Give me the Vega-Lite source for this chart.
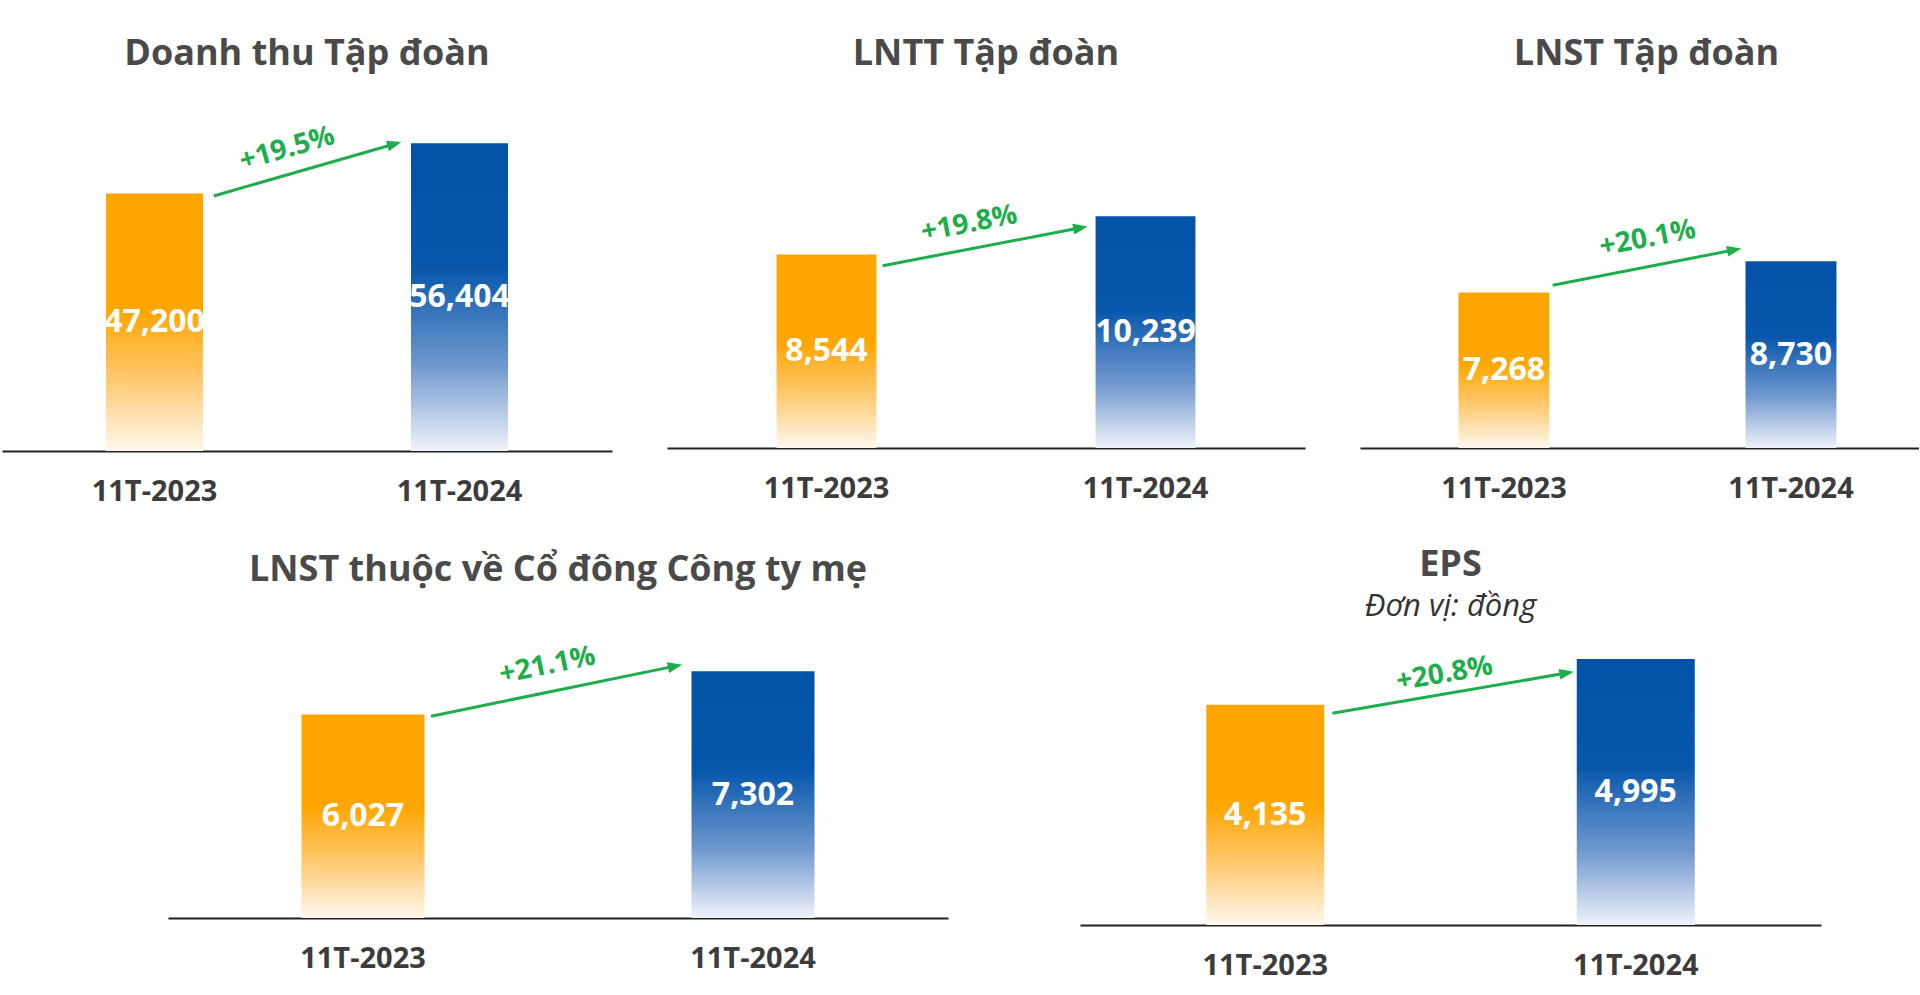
{
  "$schema": "https://vega.github.io/schema/vega-lite/v6.json",
  "background": "white",
  "padding": {"left": 2, "top": 36, "right": 0, "bottom": 12},
  "config": {
    "view": {"stroke": null},
    "font": "Open Sans",
    "axis": {"domainColor": "#222222", "domainWidth": 2, "ticks": false, "tickSize": 0, "labelPadding": 26, "labelFontSize": 29, "labelFontWeight": 700, "labelColor": "#3c3c3c", "labelFont": "Open Sans", "labelAngle": 0, "grid": false},
    "title": {"font": "Open Sans", "fontSize": 36, "fontWeight": 700, "color": "#4a4a4a", "subtitleFont": "Open Sans", "subtitleFontSize": 31, "subtitleFontStyle": "italic", "subtitleFontWeight": 400, "subtitleColor": "#333333", "subtitlePadding": 8}
  },
  "datasets": {
    "bars": [
      {"metric": "Doanh thu", "period": "11T-2023", "value": 47200},
      {"metric": "Doanh thu", "period": "11T-2024", "value": 56404},
      {"metric": "LNTT", "period": "11T-2023", "value": 8544},
      {"metric": "LNTT", "period": "11T-2024", "value": 10239},
      {"metric": "LNST", "period": "11T-2023", "value": 7268},
      {"metric": "LNST", "period": "11T-2024", "value": 8730},
      {"metric": "LNST CĐ", "period": "11T-2023", "value": 6027},
      {"metric": "LNST CĐ", "period": "11T-2024", "value": 7302},
      {"metric": "EPS", "period": "11T-2023", "value": 4135},
      {"metric": "EPS", "period": "11T-2024", "value": 4995}
    ],
    "growth": [
      {"metric": "Doanh thu", "from": "11T-2023", "to": "11T-2024", "v1": 47200, "v2": 56404, "pct": "+19.5%"},
      {"metric": "LNTT", "from": "11T-2023", "to": "11T-2024", "v1": 8544, "v2": 10239, "pct": "+19.8%"},
      {"metric": "LNST", "from": "11T-2023", "to": "11T-2024", "v1": 7268, "v2": 8730, "pct": "+20.1%"},
      {"metric": "LNST CĐ", "from": "11T-2023", "to": "11T-2024", "v1": 6027, "v2": 7302, "pct": "+21.1%"},
      {"metric": "EPS", "from": "11T-2023", "to": "11T-2024", "v1": 4135, "v2": 4995, "pct": "+20.8%"}
    ]
  },
  "vconcat": [
    {
      "hconcat": [
        {
          "width": 610, "height": 342,
          "title": {"text": "Doanh thu Tập đoàn", "offset": 36},
          "resolve": {"scale": {"y": "independent"}},
          "layer": [
            {"data": {"name": "bars"}, "transform": [{"filter": {"field": "metric", "equal": "Doanh thu"}}],
             "mark": {"type": "bar"},
             "encoding": {
               "x": {"field": "period", "type": "nominal", "title": null, "scale": {"paddingInner": 0.682, "paddingOuter": 0.341}},
               "y": {"field": "value", "type": "quantitative", "scale": {"domain": [0, 62700]}, "axis": null},
               "fill": {"condition": {"test": "datum.period === '11T-2023'", "value": {"gradient": "linear", "x1": 0, "y1": 0, "x2": 0, "y2": 1, "stops": [{"offset": 0, "color": "#FFA500"}, {"offset": 0.45, "color": "#FFA500"}, {"offset": 0.72, "color": "#FFC96E"}, {"offset": 1, "color": "#FFF8EE"}]}},
                        "value": {"gradient": "linear", "x1": 0, "y1": 0, "x2": 0, "y2": 1, "stops": [{"offset": 0, "color": "#0252A8"}, {"offset": 0.4, "color": "#0656AB"}, {"offset": 0.72, "color": "#6F98CE"}, {"offset": 1, "color": "#EFF3FA"}]}}
             }},
            {"data": {"name": "bars"}, "transform": [{"filter": {"field": "metric", "equal": "Doanh thu"}}],
             "mark": {"type": "text", "fontSize": 32, "fontWeight": 700, "color": "white", "baseline": "middle"},
             "encoding": {
               "x": {"field": "period", "type": "nominal", "title": null},
               "y": {"field": "value", "type": "quantitative", "scale": {"domain": [0, 125400]}, "axis": null},
               "text": {"field": "value", "type": "quantitative", "format": ","}
             }},
            {"data": {"name": "growth"}, "transform": [{"filter": {"field": "metric", "equal": "Doanh thu"}}],
             "mark": {"type": "rule", "color": "#1DAE4B", "strokeWidth": 3, "xOffset": 10.8, "yOffset": 2.4, "x2Offset": -16.6, "y2Offset": 0.6},
             "encoding": {
               "x": {"field": "from", "type": "nominal", "bandPosition": 1, "title": null},
               "x2": {"field": "to", "bandPosition": 0},
               "y": {"field": "v1", "type": "quantitative", "scale": {"domain": [0, 62700]}, "axis": null},
               "y2": {"field": "v2"}
             }},
            {"data": {"name": "growth"}, "transform": [{"filter": {"field": "metric", "equal": "Doanh thu"}}],
             "mark": {"type": "point", "shape": "M-1,-0.75L1,0L-1,0.75Z", "size": 210, "filled": true, "opacity": 1, "color": "#1DAE4B", "angle": -16, "xOffset": -16.6, "yOffset": 0.6},
             "encoding": {
               "x": {"field": "to", "type": "nominal", "bandPosition": 0, "title": null},
               "y": {"field": "v2", "type": "quantitative", "scale": {"domain": [0, 62700]}, "axis": null}
             }},
            {"data": {"name": "growth"}, "transform": [{"filter": {"field": "metric", "equal": "Doanh thu"}}],
             "mark": {"type": "text", "fontSize": 28, "fontWeight": 700, "color": "#1DAE4B", "angle": -16, "baseline": "middle", "yOffset": 5.7},
             "encoding": {
               "x": {"field": "from", "type": "nominal", "bandPosition": 1.87, "title": null},
               "y": {"field": "v2", "type": "quantitative", "scale": {"domain": [0, 62700]}, "axis": null},
               "text": {"field": "pct", "type": "nominal"}
             }}
          ]
        },
        {
          "width": 638, "height": 339,
          "title": {"text": "LNTT Tập đoàn", "offset": 36},
          "resolve": {"scale": {"y": "independent"}},
          "layer": [
            {"data": {"name": "bars"}, "transform": [{"filter": {"field": "metric", "equal": "LNTT"}}],
             "mark": {"type": "bar"},
             "encoding": {
               "x": {"field": "period", "type": "nominal", "title": null, "scale": {"paddingInner": 0.687, "paddingOuter": 0.3435}},
               "y": {"field": "value", "type": "quantitative", "scale": {"domain": [0, 14970]}, "axis": null},
               "fill": {"condition": {"test": "datum.period === '11T-2023'", "value": {"gradient": "linear", "x1": 0, "y1": 0, "x2": 0, "y2": 1, "stops": [{"offset": 0, "color": "#FFA500"}, {"offset": 0.45, "color": "#FFA500"}, {"offset": 0.72, "color": "#FFC96E"}, {"offset": 1, "color": "#FFF8EE"}]}},
                        "value": {"gradient": "linear", "x1": 0, "y1": 0, "x2": 0, "y2": 1, "stops": [{"offset": 0, "color": "#0252A8"}, {"offset": 0.4, "color": "#0656AB"}, {"offset": 0.72, "color": "#6F98CE"}, {"offset": 1, "color": "#EFF3FA"}]}}
             }},
            {"data": {"name": "bars"}, "transform": [{"filter": {"field": "metric", "equal": "LNTT"}}],
             "mark": {"type": "text", "fontSize": 32, "fontWeight": 700, "color": "white", "baseline": "middle"},
             "encoding": {
               "x": {"field": "period", "type": "nominal", "title": null},
               "y": {"field": "value", "type": "quantitative", "scale": {"domain": [0, 29940]}, "axis": null},
               "text": {"field": "value", "type": "quantitative", "format": ","}
             }},
            {"data": {"name": "growth"}, "transform": [{"filter": {"field": "metric", "equal": "LNTT"}}],
             "mark": {"type": "rule", "color": "#1DAE4B", "strokeWidth": 3, "xOffset": 6.3, "yOffset": 11.2, "x2Offset": -15.1, "y2Offset": 11.7},
             "encoding": {
               "x": {"field": "from", "type": "nominal", "bandPosition": 1, "title": null},
               "x2": {"field": "to", "bandPosition": 0},
               "y": {"field": "v1", "type": "quantitative", "scale": {"domain": [0, 14970]}, "axis": null},
               "y2": {"field": "v2"}
             }},
            {"data": {"name": "growth"}, "transform": [{"filter": {"field": "metric", "equal": "LNTT"}}],
             "mark": {"type": "point", "shape": "M-1,-0.75L1,0L-1,0.75Z", "size": 210, "filled": true, "opacity": 1, "color": "#1DAE4B", "angle": -10.8, "xOffset": -15.1, "yOffset": 11.7},
             "encoding": {
               "x": {"field": "to", "type": "nominal", "bandPosition": 0, "title": null},
               "y": {"field": "v2", "type": "quantitative", "scale": {"domain": [0, 14970]}, "axis": null}
             }},
            {"data": {"name": "growth"}, "transform": [{"filter": {"field": "metric", "equal": "LNTT"}}],
             "mark": {"type": "text", "fontSize": 28, "fontWeight": 700, "color": "#1DAE4B", "angle": -11, "baseline": "middle", "yOffset": 8},
             "encoding": {
               "x": {"field": "from", "type": "nominal", "bandPosition": 1.93, "title": null},
               "y": {"field": "v2", "type": "quantitative", "scale": {"domain": [0, 14970]}, "axis": null},
               "text": {"field": "pct", "type": "nominal"}
             }}
          ]
        },
        {
          "width": 559, "height": 339,
          "title": {"text": "LNST Tập đoàn", "offset": 36, "dx": 7},
          "resolve": {"scale": {"y": "independent"}},
          "layer": [
            {"data": {"name": "bars"}, "transform": [{"filter": {"field": "metric", "equal": "LNST"}}],
             "mark": {"type": "bar"},
             "encoding": {
               "x": {"field": "period", "type": "nominal", "title": null, "scale": {"paddingInner": 0.683, "paddingOuter": 0.3154, "align": 0.544}},
               "y": {"field": "value", "type": "quantitative", "scale": {"domain": [0, 15850]}, "axis": null},
               "fill": {"condition": {"test": "datum.period === '11T-2023'", "value": {"gradient": "linear", "x1": 0, "y1": 0, "x2": 0, "y2": 1, "stops": [{"offset": 0, "color": "#FFA500"}, {"offset": 0.45, "color": "#FFA500"}, {"offset": 0.72, "color": "#FFC96E"}, {"offset": 1, "color": "#FFF8EE"}]}},
                        "value": {"gradient": "linear", "x1": 0, "y1": 0, "x2": 0, "y2": 1, "stops": [{"offset": 0, "color": "#0252A8"}, {"offset": 0.4, "color": "#0656AB"}, {"offset": 0.72, "color": "#6F98CE"}, {"offset": 1, "color": "#EFF3FA"}]}}
             }},
            {"data": {"name": "bars"}, "transform": [{"filter": {"field": "metric", "equal": "LNST"}}],
             "mark": {"type": "text", "fontSize": 32, "fontWeight": 700, "color": "white", "baseline": "middle"},
             "encoding": {
               "x": {"field": "period", "type": "nominal", "title": null},
               "y": {"field": "value", "type": "quantitative", "scale": {"domain": [0, 31700]}, "axis": null},
               "text": {"field": "value", "type": "quantitative", "format": ","}
             }},
            {"data": {"name": "growth"}, "transform": [{"filter": {"field": "metric", "equal": "LNST"}}],
             "mark": {"type": "rule", "color": "#1DAE4B", "strokeWidth": 3, "xOffset": 3.2, "yOffset": -7.3, "x2Offset": -11.2, "y2Offset": -11.4},
             "encoding": {
               "x": {"field": "from", "type": "nominal", "bandPosition": 1, "title": null},
               "x2": {"field": "to", "bandPosition": 0},
               "y": {"field": "v1", "type": "quantitative", "scale": {"domain": [0, 15850]}, "axis": null},
               "y2": {"field": "v2"}
             }},
            {"data": {"name": "growth"}, "transform": [{"filter": {"field": "metric", "equal": "LNST"}}],
             "mark": {"type": "point", "shape": "M-1,-0.75L1,0L-1,0.75Z", "size": 210, "filled": true, "opacity": 1, "color": "#1DAE4B", "angle": -11, "xOffset": -11.2, "yOffset": -11.4},
             "encoding": {
               "x": {"field": "to", "type": "nominal", "bandPosition": 0, "title": null},
               "y": {"field": "v2", "type": "quantitative", "scale": {"domain": [0, 15850]}, "axis": null}
             }},
            {"data": {"name": "growth"}, "transform": [{"filter": {"field": "metric", "equal": "LNST"}}],
             "mark": {"type": "text", "fontSize": 28, "fontWeight": 700, "color": "#1DAE4B", "angle": -11, "baseline": "middle", "yOffset": -22.5},
             "encoding": {
               "x": {"field": "from", "type": "nominal", "bandPosition": 2.08, "title": null},
               "y": {"field": "v2", "type": "quantitative", "scale": {"domain": [0, 15850]}, "axis": null},
               "text": {"field": "pct", "type": "nominal"}
             }}
          ]
        }
      ],
      "spacing": 55
    },
    {
      "hconcat": [
        {
          "width": 34, "height": 1,
          "data": {"values": []},
          "mark": {"type": "point", "opacity": 0}
        },
        {
          "width": 780, "height": 288,
          "title": {"text": "LNST thuộc về Cổ đông Công ty mẹ", "offset": 41},
          "resolve": {"scale": {"y": "independent"}},
          "layer": [
            {"data": {"name": "bars"}, "transform": [{"filter": {"field": "metric", "equal": "LNST CĐ"}}],
             "mark": {"type": "bar"},
             "encoding": {
               "x": {"field": "period", "type": "nominal", "title": null, "scale": {"paddingInner": 0.6846, "paddingOuter": 0.3423}},
               "y": {"field": "value", "type": "quantitative", "scale": {"domain": [0, 8525]}, "axis": null},
               "fill": {"condition": {"test": "datum.period === '11T-2023'", "value": {"gradient": "linear", "x1": 0, "y1": 0, "x2": 0, "y2": 1, "stops": [{"offset": 0, "color": "#FFA500"}, {"offset": 0.45, "color": "#FFA500"}, {"offset": 0.72, "color": "#FFC96E"}, {"offset": 1, "color": "#FFF8EE"}]}},
                        "value": {"gradient": "linear", "x1": 0, "y1": 0, "x2": 0, "y2": 1, "stops": [{"offset": 0, "color": "#0252A8"}, {"offset": 0.4, "color": "#0656AB"}, {"offset": 0.72, "color": "#6F98CE"}, {"offset": 1, "color": "#EFF3FA"}]}}
             }},
            {"data": {"name": "bars"}, "transform": [{"filter": {"field": "metric", "equal": "LNST CĐ"}}],
             "mark": {"type": "text", "fontSize": 32, "fontWeight": 700, "color": "white", "baseline": "middle"},
             "encoding": {
               "x": {"field": "period", "type": "nominal", "title": null},
               "y": {"field": "value", "type": "quantitative", "scale": {"domain": [0, 17050]}, "axis": null},
               "text": {"field": "value", "type": "quantitative", "format": ","}
             }},
            {"data": {"name": "growth"}, "transform": [{"filter": {"field": "metric", "equal": "LNST CĐ"}}],
             "mark": {"type": "rule", "color": "#1DAE4B", "strokeWidth": 3, "xOffset": 6.5, "yOffset": 1.8, "x2Offset": -16.4, "y2Offset": -5.2},
             "encoding": {
               "x": {"field": "from", "type": "nominal", "bandPosition": 1, "title": null},
               "x2": {"field": "to", "bandPosition": 0},
               "y": {"field": "v1", "type": "quantitative", "scale": {"domain": [0, 8525]}, "axis": null},
               "y2": {"field": "v2"}
             }},
            {"data": {"name": "growth"}, "transform": [{"filter": {"field": "metric", "equal": "LNST CĐ"}}],
             "mark": {"type": "point", "shape": "M-1,-0.75L1,0L-1,0.75Z", "size": 210, "filled": true, "opacity": 1, "color": "#1DAE4B", "angle": -11.6, "xOffset": -16.4, "yOffset": -5.2},
             "encoding": {
               "x": {"field": "to", "type": "nominal", "bandPosition": 0, "title": null},
               "y": {"field": "v2", "type": "quantitative", "scale": {"domain": [0, 8525]}, "axis": null}
             }},
            {"data": {"name": "growth"}, "transform": [{"filter": {"field": "metric", "equal": "LNST CĐ"}}],
             "mark": {"type": "text", "fontSize": 28, "fontWeight": 700, "color": "#1DAE4B", "angle": -11.6, "baseline": "middle", "yOffset": -5.4},
             "encoding": {
               "x": {"field": "from", "type": "nominal", "bandPosition": 2.0, "title": null},
               "y": {"field": "v2", "type": "quantitative", "scale": {"domain": [0, 8525]}, "axis": null},
               "text": {"field": "pct", "type": "nominal"}
             }}
          ]
        },
        {
          "width": 741, "height": 295,
          "title": {"text": "EPS", "subtitle": "Đơn vị: đồng", "offset": 7},
          "resolve": {"scale": {"y": "independent"}},
          "layer": [
            {"data": {"name": "bars"}, "transform": [{"filter": {"field": "metric", "equal": "EPS"}}],
             "mark": {"type": "bar"},
             "encoding": {
               "x": {"field": "period", "type": "nominal", "title": null, "scale": {"paddingInner": 0.6815, "paddingOuter": 0.3407}},
               "y": {"field": "value", "type": "quantitative", "scale": {"domain": [0, 5540]}, "axis": null},
               "fill": {"condition": {"test": "datum.period === '11T-2023'", "value": {"gradient": "linear", "x1": 0, "y1": 0, "x2": 0, "y2": 1, "stops": [{"offset": 0, "color": "#FFA500"}, {"offset": 0.45, "color": "#FFA500"}, {"offset": 0.72, "color": "#FFC96E"}, {"offset": 1, "color": "#FFF8EE"}]}},
                        "value": {"gradient": "linear", "x1": 0, "y1": 0, "x2": 0, "y2": 1, "stops": [{"offset": 0, "color": "#0252A8"}, {"offset": 0.4, "color": "#0656AB"}, {"offset": 0.72, "color": "#6F98CE"}, {"offset": 1, "color": "#EFF3FA"}]}}
             }},
            {"data": {"name": "bars"}, "transform": [{"filter": {"field": "metric", "equal": "EPS"}}],
             "mark": {"type": "text", "fontSize": 32, "fontWeight": 700, "color": "white", "baseline": "middle"},
             "encoding": {
               "x": {"field": "period", "type": "nominal", "title": null},
               "y": {"field": "value", "type": "quantitative", "scale": {"domain": [0, 11080]}, "axis": null},
               "text": {"field": "value", "type": "quantitative", "format": ","}
             }},
            {"data": {"name": "growth"}, "transform": [{"filter": {"field": "metric", "equal": "EPS"}}],
             "mark": {"type": "rule", "color": "#1DAE4B", "strokeWidth": 3, "xOffset": 8.1, "yOffset": 8.5, "x2Offset": -10.1, "y2Offset": 14.0},
             "encoding": {
               "x": {"field": "from", "type": "nominal", "bandPosition": 1, "title": null},
               "x2": {"field": "to", "bandPosition": 0},
               "y": {"field": "v1", "type": "quantitative", "scale": {"domain": [0, 5540]}, "axis": null},
               "y2": {"field": "v2"}
             }},
            {"data": {"name": "growth"}, "transform": [{"filter": {"field": "metric", "equal": "EPS"}}],
             "mark": {"type": "point", "shape": "M-1,-0.75L1,0L-1,0.75Z", "size": 210, "filled": true, "opacity": 1, "color": "#1DAE4B", "angle": -9.8, "xOffset": -10.1, "yOffset": 14.0},
             "encoding": {
               "x": {"field": "to", "type": "nominal", "bandPosition": 0, "title": null},
               "y": {"field": "v2", "type": "quantitative", "scale": {"domain": [0, 5540]}, "axis": null}
             }},
            {"data": {"name": "growth"}, "transform": [{"filter": {"field": "metric", "equal": "EPS"}}],
             "mark": {"type": "text", "fontSize": 28, "fontWeight": 700, "color": "#1DAE4B", "angle": -9.8, "baseline": "middle", "yOffset": 15.3},
             "encoding": {
               "x": {"field": "from", "type": "nominal", "bandPosition": 2.02, "title": null},
               "y": {"field": "v2", "type": "quantitative", "scale": {"domain": [0, 5540]}, "axis": null},
               "text": {"field": "pct", "type": "nominal"}
             }}
          ]
        }
      ],
      "spacing": 132
    }
  ],
  "spacing": 41
}
